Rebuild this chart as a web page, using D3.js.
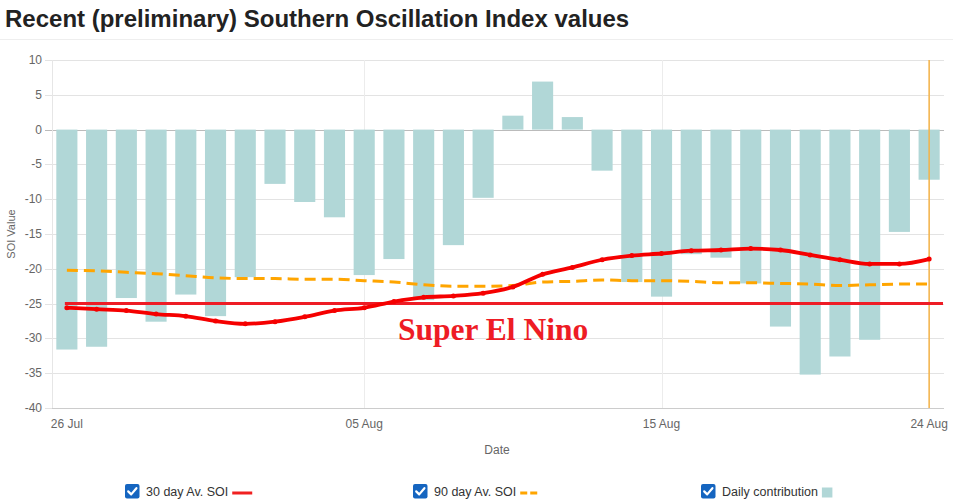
<!DOCTYPE html>
<html>
<head>
<meta charset="utf-8">
<script src="https://cdn.jsdelivr.net/npm/d3@7"></script>
<style>
  body { margin: 0; background: #fff; }
  svg { display: block; font-family: "Liberation Sans", Arial, sans-serif; }
</style>
</head>
<body>
<div id="chart"></div>
<script>
// daily dates, 26 Jul .. 24 Aug
var dates = d3.timeDay.range(new Date(2023, 6, 26), new Date(2023, 7, 25));

var dailySOI = [-31.6, -31.2, -24.2, -27.6, -23.7, -26.8, -21.2, -7.8, -10.4, -12.6,
                -20.9, -18.6, -24.5, -16.6, -9.8, 2.0, 6.9, 1.8, -5.9, -21.9,
                -24.0, -17.9, -18.4, -22.1, -28.3, -35.2, -32.6, -30.2, -14.7, -7.2];

var avg30 = [-25.6, -25.8, -26.0, -26.5, -26.8, -27.5, -27.9, -27.6, -26.9, -26.0,
             -25.6, -24.7, -24.1, -23.9, -23.5, -22.6, -20.8, -19.8, -18.7, -18.1,
             -17.8, -17.4, -17.3, -17.1, -17.3, -18.0, -18.7, -19.3, -19.3, -18.6];

var avg90 = [-20.2, -20.3, -20.5, -20.7, -21.0, -21.3, -21.4, -21.4, -21.5, -21.5,
             -21.7, -21.9, -22.3, -22.5, -22.5, -22.4, -21.9, -21.8, -21.6, -21.7,
             -21.7, -21.8, -22.0, -22.0, -22.1, -22.2, -22.4, -22.3, -22.2, -22.2];

var yTicks = [10, 5, 0, -5, -10, -15, -20, -25, -30, -35, -40];
var xTicks = [new Date(2023, 6, 26), new Date(2023, 7, 5), new Date(2023, 7, 15), new Date(2023, 7, 24)];
var superElNino = -25;
var legendItems = ['30 day Av. SOI', '90 day Av. SOI', 'Daily contribution'];

var width = 953, height = 503;
var margin = {left: 52, right: 9, top: 60, bottom: 95};

var svg = d3.select('#chart')
    .append('svg')
    .attr('width', width)
    .attr('height', height)
;

var x = d3.scaleTime()
    .domain([d3.timeHour.offset(dates[0], -12), d3.timeHour.offset(dates[dates.length - 1], 12)])
    .range([margin.left, width - margin.right]);

var y = d3.scaleLinear()
    .domain([-40, 10])
    .range([height - margin.bottom, margin.top]);

var dayWidth = x(dates[1]) - x(dates[0]);
var barWidth = dayWidth * 0.71;

// title
svg.append('text')
    .attr('x', 5)
    .attr('y', 27)
    .attr('font-size', 24)
    .attr('font-weight', 'bold')
    .attr('fill', '#222')
    .text('Recent (preliminary) Southern Oscillation Index values');

svg.append('line')
    .attr('x1', 0).attr('x2', width)
    .attr('y1', 39.5).attr('y2', 39.5)
    .attr('stroke', '#eee');

// grid
svg.append('g')
    .selectAll('line')
    .data(yTicks)
    .enter().append('line')
    .attr('x1', margin.left - 7)
    .attr('x2', width - margin.right)
    .attr('y1', function (d) { return Math.round(y(d)) + 0.5; })
    .attr('y2', function (d) { return Math.round(y(d)) + 0.5; })
    .attr('stroke', function (d) { return d === 0 ? '#bbb' : '#e3e3e3'; });

svg.append('g')
    .selectAll('line')
    .data(xTicks.slice(1))
    .enter().append('line')
    .attr('x1', function (d) { return Math.round(x(d)) + 0.5; })
    .attr('x2', function (d) { return Math.round(x(d)) + 0.5; })
    .attr('y1', margin.top)
    .attr('y2', height - margin.bottom)
    .attr('stroke', '#ececec');

svg.append('line')
    .attr('x1', margin.left + 0.5).attr('x2', margin.left + 0.5)
    .attr('y1', margin.top).attr('y2', height - margin.bottom)
    .attr('stroke', '#e6e6e6');

svg.append('line')
    .attr('x1', margin.left).attr('x2', width - margin.right)
    .attr('y1', height - margin.bottom + 0.5).attr('y2', height - margin.bottom + 0.5)
    .attr('stroke', '#ccc');

// axis labels
svg.append('g')
    .selectAll('text')
    .data(yTicks)
    .enter().append('text')
    .attr('x', 42)
    .attr('y', function (d) { return y(d) + 4; })
    .attr('text-anchor', 'end')
    .attr('font-size', 12)
    .attr('fill', '#666')
    .text(function (d) { return d; });

var fmt = d3.timeFormat('%d %b');
svg.append('g')
    .selectAll('text')
    .data(xTicks)
    .enter().append('text')
    .attr('x', function (d) { return x(d); })
    .attr('y', 428)
    .attr('text-anchor', 'middle')
    .attr('font-size', 12)
    .attr('fill', '#666')
    .text(function (d) { return fmt(d); });

svg.append('text')
    .attr('x', 497)
    .attr('y', 454)
    .attr('text-anchor', 'middle')
    .attr('font-size', 12)
    .attr('fill', '#666')
    .text('Date');

svg.append('text')
    .attr('transform', 'translate(15,' + y(-15) + ') rotate(-90)')
    .attr('text-anchor', 'middle')
    .attr('font-size', 11)
    .attr('fill', '#666')
    .text('SOI Value');

// bars
svg.append('g')
    .selectAll('rect')
    .data(dailySOI)
    .enter().append('rect')
    .attr('x', function (d, i) { return x(dates[i]) - barWidth / 2; })
    .attr('width', barWidth)
    .attr('y', function (d) { return y(Math.max(0, d)); })
    .attr('height', function (d) { return Math.abs(y(d) - y(0)); })
    .attr('fill', '#b1d7d7');

// current date marker
svg.append('line')
    .attr('x1', x(dates[dates.length - 1])).attr('x2', x(dates[dates.length - 1]))
    .attr('y1', margin.top).attr('y2', height - margin.bottom)
    .attr('stroke', '#f4b246')
    .attr('stroke-width', 1.5);

var lineFunction = d3.line()
    .x(function (d, i) { return x(dates[i]); })
    .y(function (d) { return y(d); })
    .curve(d3.curveMonotoneX);

// super el nino threshold
svg.append('line')
    .attr('x1', x(dates[0]) - 2)
    .attr('x2', width - margin.right - 1)
    .attr('y1', y(superElNino)).attr('y2', y(superElNino))
    .attr('stroke', '#ee1c25')
    .attr('stroke-width', 3);

svg.append('path')
    .attr('d', lineFunction(avg90))
    .attr('fill', 'none')
    .attr('stroke', '#ffa500')
    .attr('stroke-width', 3)
    .attr('stroke-dasharray', '11,6');

svg.append('path')
    .attr('d', lineFunction(avg30))
    .attr('fill', 'none')
    .attr('stroke', '#f50000')
    .attr('stroke-width', 3.8);

svg.append('g')
    .selectAll('circle')
    .data(avg30)
    .enter().append('circle')
    .attr('cx', function (d, i) { return x(dates[i]); })
    .attr('cy', function (d) { return y(d); })
    .attr('r', 2.5)
    .attr('fill', '#f50000');

svg.append('text')
    .attr('x', x(d3.timeHour.offset(dates[14], 8)))
    .attr('y', y(-30.2))
    .attr('text-anchor', 'middle')
    .attr('font-family', '"Liberation Serif", "Times New Roman", serif')
    .attr('font-weight', 'bold')
    .attr('font-size', 31.5)
    .attr('fill', '#ee1c25')
    .text('Super El Nino');

// legend
var legendX = [125, 413, 701];
var legend = svg.append('g')
    .selectAll('g')
    .data(legendItems)
    .enter().append('g')
    .attr('transform', function (d, i) { return 'translate(' + legendX[i] + ',484)'; });

legend.append('rect')
    .attr('width', 14.5).attr('height', 14.5)
    .attr('rx', 2)
    .attr('fill', '#1565c0');

legend.append('path')
    .attr('d', 'M3.2,7.4 L6.2,10.4 L11.4,4.2')
    .attr('fill', 'none')
    .attr('stroke', '#fff')
    .attr('stroke-width', 2.2)
    .attr('stroke-linecap', 'round')
    .attr('stroke-linejoin', 'round');

legend.append('text')
    .attr('x', 21)
    .attr('y', 12)
    .attr('font-size', 12.5)
    .attr('fill', '#333')
    .text(function (d) { return d; });

legend.each(function (d, i) {
    var g = d3.select(this);
    var tw = g.select('text').node().getComputedTextLength();
    var sx = 21 + tw + 4;
    if (i === 0) {
        g.append('line').attr('x1', sx).attr('x2', sx + 20).attr('y1', 9).attr('y2', 9)
            .attr('stroke', '#f02020').attr('stroke-width', 3);
    } else if (i === 1) {
        g.append('line').attr('x1', sx).attr('x2', sx + 20).attr('y1', 9).attr('y2', 9)
            .attr('stroke', '#ffa500').attr('stroke-width', 3).attr('stroke-dasharray', '7,3');
    } else {
        g.append('rect').attr('x', sx).attr('y', 3.5).attr('width', 10.5).attr('height', 10)
            .attr('fill', '#b1d7d7');
    }
});
</script>
</body>
</html>
